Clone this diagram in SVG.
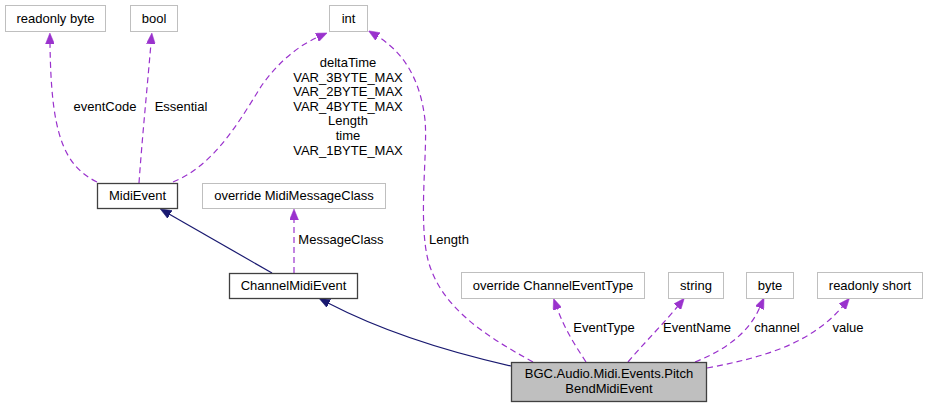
<svg xmlns="http://www.w3.org/2000/svg" width="927" height="408" viewBox="0 0 927 408">
<style>
text { font-family: "Liberation Sans", Arial, sans-serif; font-size: 13px; fill: #000; text-anchor: middle; }
.ref { fill: #fff; stroke: #bfbfbf; stroke-width: 1; }
.cls { fill: #fff; stroke: #404040; stroke-width: 1.3; }
.main { fill: #bfbfbf; stroke: #404040; stroke-width: 1.3; }
.use { fill: none; stroke: #9a32cd; stroke-width: 1.2; stroke-dasharray: 6,4; marker-end: url(#ap); }
.inh { fill: none; stroke: #191970; stroke-width: 1.2; marker-end: url(#ab); }
</style>
<defs>
<marker id="ap" viewBox="0 0 11 9" refX="1" refY="4.5" markerWidth="11" markerHeight="9" markerUnits="userSpaceOnUse" orient="auto">
<path d="M0,0 L11,4.5 L0,9 z" fill="#9a32cd" stroke="#9a32cd" stroke-width="0.5"/>
</marker>
<marker id="ab" viewBox="0 0 11 9" refX="1" refY="4.5" markerWidth="11" markerHeight="9" markerUnits="userSpaceOnUse" orient="auto">
<path d="M0,0 L11,4.5 L0,9 z" fill="#191970" stroke="#191970" stroke-width="0.5"/>
</marker>
</defs>
<rect x="0" y="0" width="927" height="408" fill="#fff"/>
<g id="connectors">
<path class="use" d="M97,182 C62,165 51,130 50,43"/>
<path class="use" d="M139,183 C142,140 147,90 151,43"/>
<path class="use" d="M173,182 C215,165 240,120 262,85 C280,60 300,45 318,37"/>
<path class="use" d="M533,362 C480,333 440,305 428,260 C418,220 428,150 425,120 C420,75 400,50 377,36"/>
<path class="inh" d="M272,273 L169,214"/>
<path class="use" d="M294,273 L294,219"/>
<path class="inh" d="M511,366 C440,350 380,330 328,303"/>
<path class="use" d="M586,362 C575,345 565,330 557,308"/>
<path class="use" d="M628,362 C645,342 665,322 678,306"/>
<path class="use" d="M695,362 C730,348 750,330 760,307"/>
<path class="use" d="M707,368 C760,358 810,345 843,306"/>
<text x="105" y="111">eventCode</text>
<text x="181" y="111">Essential</text>
<text x="348" y="67">deltaTime</text>
<text x="348" y="81.6">VAR_3BYTE_MAX</text>
<text x="348" y="96.2">VAR_2BYTE_MAX</text>
<text x="348" y="110.8">VAR_4BYTE_MAX</text>
<text x="348" y="125.4">Length</text>
<text x="348" y="140">time</text>
<text x="348" y="154.6">VAR_1BYTE_MAX</text>
<text x="449" y="244">Length</text>
<text x="341" y="244">MessageClass</text>
<text x="604" y="332">EventType</text>
<text x="697" y="332">EventName</text>
<text x="777" y="332">channel</text>
<text x="848" y="332">value</text>
</g>
<g id="n_readonly_byte"><rect class="ref" x="5.5" y="5.5" width="100" height="26"/><text x="55.5" y="22.5">readonly byte</text></g>
<g id="n_bool"><rect class="ref" x="130.5" y="5.5" width="47" height="26"/><text x="154" y="22.5">bool</text></g>
<g id="n_int"><rect class="ref" x="329.5" y="5.5" width="38" height="26"/><text x="348.5" y="22.5">int</text></g>
<g id="n_midievent"><rect class="cls" x="97.5" y="183.5" width="80" height="25"/><text x="137.5" y="200">MidiEvent</text></g>
<g id="n_midimessageclass"><rect class="ref" x="202.5" y="183.5" width="183" height="25"/><text x="294" y="200">override MidiMessageClass</text></g>
<g id="n_channelmidievent"><rect class="cls" x="229.5" y="273.5" width="128" height="25"/><text x="293.5" y="290">ChannelMidiEvent</text></g>
<g id="n_channeleventtype"><rect class="ref" x="461.5" y="272.5" width="183" height="26"/><text x="553" y="289.5">override ChannelEventType</text></g>
<g id="n_string"><rect class="ref" x="668.5" y="272.5" width="55" height="26"/><text x="696" y="289.5">string</text></g>
<g id="n_byte"><rect class="ref" x="746.5" y="272.5" width="47" height="26"/><text x="770" y="289.5">byte</text></g>
<g id="n_readonly_short"><rect class="ref" x="817.5" y="272.5" width="105" height="26"/><text x="870" y="289.5">readonly short</text></g>
<g id="n_main"><rect class="main" x="511.5" y="362.5" width="195" height="39"/><text x="609" y="377.5">BGC.Audio.Midi.Events.Pitch</text><text x="609" y="392.5">BendMidiEvent</text></g>
</svg>
